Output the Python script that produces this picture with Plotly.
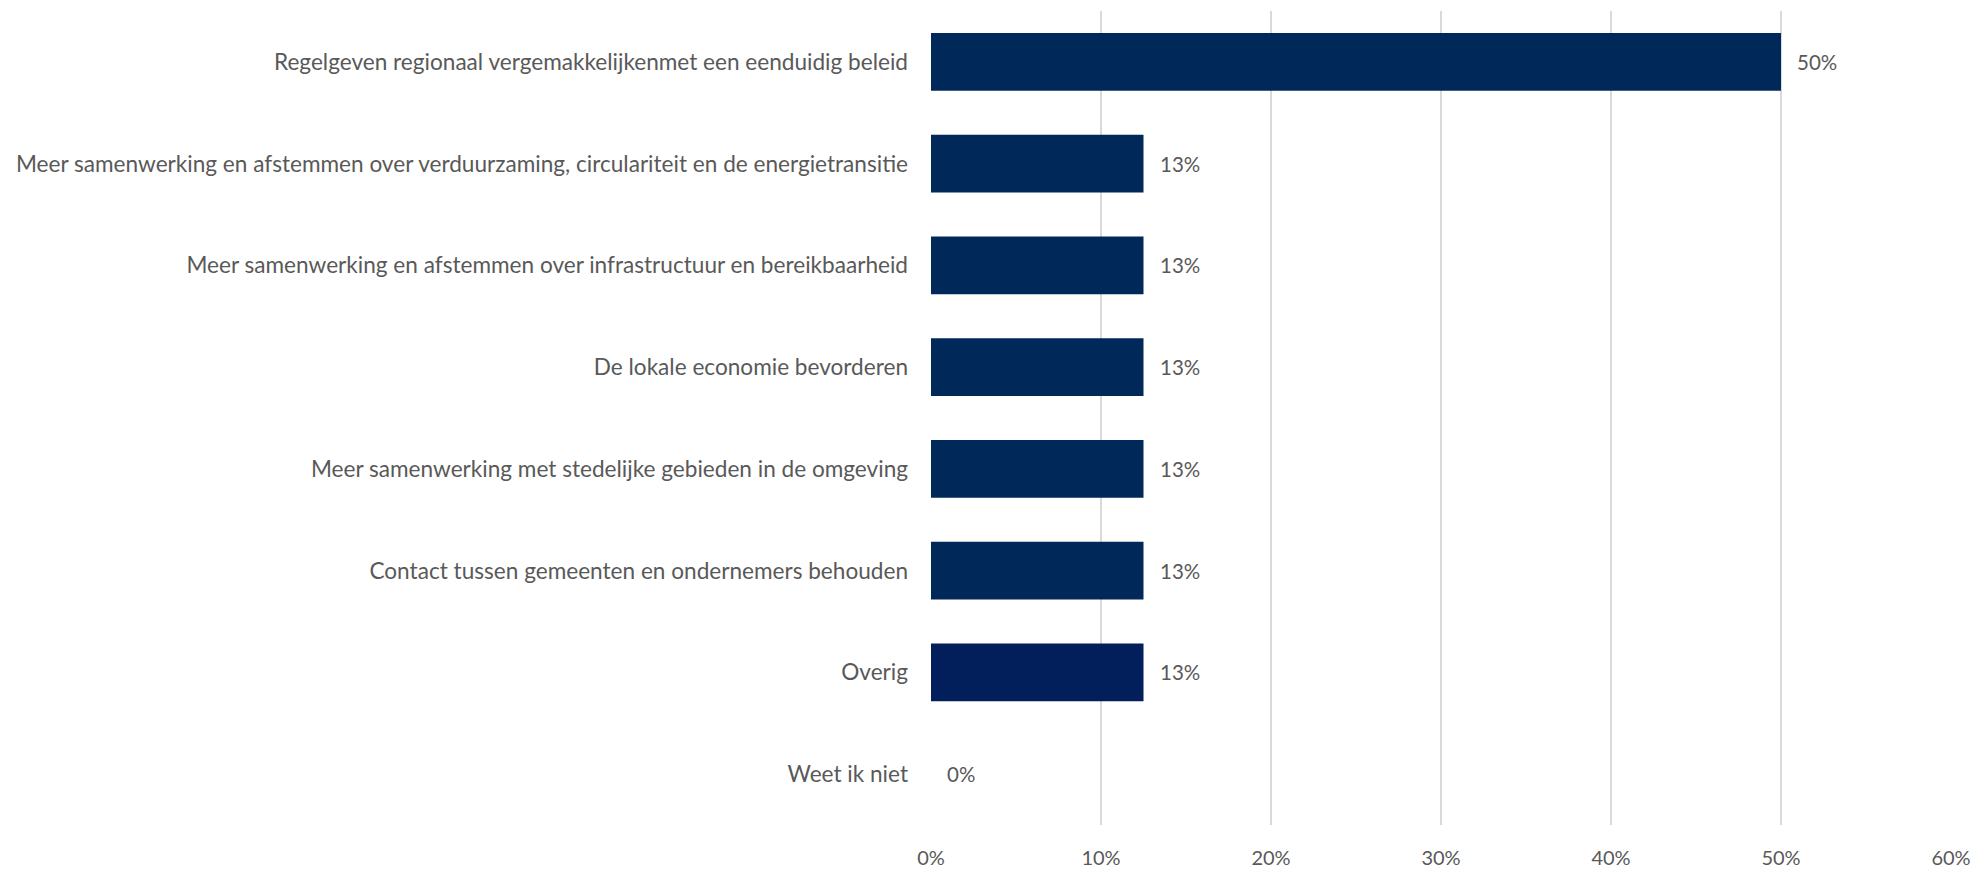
import plotly.graph_objects as go

categories = [
    "Regelgeven regionaal vergemakkelijkenmet een eenduidig beleid",
    "Meer samenwerking en afstemmen over verduurzaming, circulariteit en de energietransitie",
    "Meer samenwerking en afstemmen over infrastructuur en bereikbaarheid",
    "De lokale economie bevorderen",
    "Meer samenwerking met stedelijke gebieden in de omgeving",
    "Contact tussen gemeenten en ondernemers behouden",
    "Overig",
    "Weet ik niet",
]
values = [0.50, 0.125, 0.125, 0.125, 0.125, 0.125, 0.125, 0.0]
value_labels = ["50%", "13%", "13%", "13%", "13%", "13%", "13%", "0%"]
bar_colors = ["#002859", "#002859", "#002859", "#002859", "#002859", "#002859", "#021F5C", "#002859"]
tick_vals = [0, 0.1, 0.2, 0.3, 0.4, 0.5, 0.6]
tick_text = ["0%", "10%", "20%", "30%", "40%", "50%", "60%"]

FONT = "Lato"
GRAY = "#595959"

fig = go.Figure(
    go.Bar(
        x=values,
        y=categories,
        orientation="h",
        marker=dict(color=bar_colors, line=dict(width=0)),
        hoverinfo="skip",
    )
)

for c, v, t in zip(categories, values, value_labels):
    fig.add_annotation(
        x=v, y=c, text=t, showarrow=False, xanchor="left", yanchor="middle",
        xshift=14, font=dict(family=FONT, size=20.5, color=GRAY),
    )

fig.update_layout(
    width=1977,
    height=869,
    margin=dict(l=931, r=26, t=11, b=44, autoexpand=False),
    plot_bgcolor="white",
    paper_bgcolor="white",
    bargap=0.43,
    showlegend=False,
    font=dict(family=FONT, size=20, color=GRAY),
)
fig.update_xaxes(
    range=[0, 0.6],
    tickvals=tick_vals,
    ticktext=tick_text,
    showgrid=True,
    gridcolor="#D9D9D9",
    gridwidth=1.5,
    zeroline=False,
    showline=False,
    ticks="",
    automargin=False,
    ticklabelstandoff=19,
    tickfont=dict(family=FONT, size=20, color=GRAY),
)
fig.update_yaxes(
    autorange="reversed",
    showgrid=False,
    zeroline=False,
    showline=False,
    ticks="",
    automargin=False,
    ticklabelstandoff=22,
    tickfont=dict(family=FONT, size=22.6, color=GRAY),
)

fig.write_html(
    "out.html",
    config={"displayModeBar": False},
    post_script="document.body.style.margin='0';document.body.style.overflow='hidden';",
)
